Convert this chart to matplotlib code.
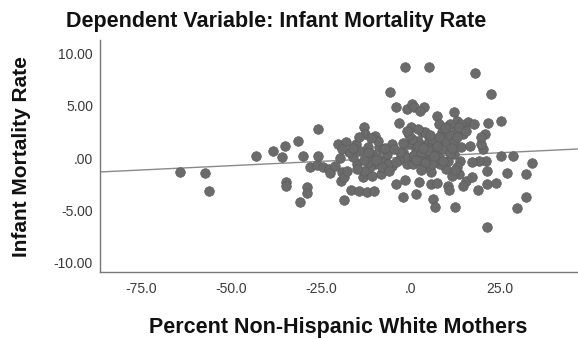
import matplotlib
matplotlib.use("Agg")
import matplotlib.pyplot as plt
import numpy as np

plt.rcParams['font.family'] = ['Liberation Sans', 'DejaVu Sans']

# partial residuals
x_vals = [-64.3, -57.4, -56.1, -43.2, -38.4, -35.8, -35.0, -34.6, -34.6, -31.4,
          -30.7, -30.0, -28.9, -28.9, -27.9, -25.9, -25.8, -26.1, -24.3, -22.8,
          -22.5, -20.1, -19.6, -19.1, -19.4, -18.6, -18.0, -18.5, -16.5, -15.3,
          -15.0, -14.3, -12.9, -12.6, -13.2, -12.1, -10.3, -9.8, -11.9, -10.8,
          -8.7, -8.2, -7.2, -5.6, -5.1, -4.1, -3.1, -4.1, -2.0, -1.5,
          -1.5, -1.0, 0.0, 0.4, 1.6, 2.4, 3.7, 5.2, 5.7, 6.3,
          6.8, 7.3, 7.3, 10.4, 10.7, 12.0, 12.3, 18.1, 18.7, 21.3,
          22.5, 21.3, 23.9, 25.2, 25.2, 27.0, 28.7, 29.8, 32.2, 32.2,
          33.9, 21.5, 20.8, 20.3, 21.1, 21.3, 19.7, 19.2, 17.1, 16.1,
          17.7, 19.7, 15.6, 17.1, 14.5, 13.5, 14.0, 13.8, 14.5, 15.0,
          12.9, 10.9, 9.9, 8.8, 9.9, 11.5, 8.3, 6.8, 5.7, 7.3,
          5.2, 5.7, 4.7, 3.7, 3.2, 2.2, 1.4, 2.6, 0.0, -0.5,
          -2.0, -1.0, 0.6, -1.5, -3.1, -5.1, -6.2, -6.7, -7.7, -9.3,
          -10.0, -11.3, -12.9, -15.0, -16.0, -17.1, -17.6, -11.9, -10.8, 7.8,
          8.8, 12.6, 12.0, 10.4, 13.0, 4.7, 3.7, 6.8, 4.7, 1.1,
          2.7, 1.0, 2.0, 3.0, 4.0, 5.0, 6.0, 7.0, 8.0, 0.5,
          -0.5, 2.5, 4.5, 6.0, 9.0, 10.0, 11.0, 10.0, 12.0, 13.0,
          14.0, 11.0, 9.0, 8.0, -14.0, -13.0, -12.0, -9.0, -8.0, -6.0,
          -4.0, -3.0, -2.0, -7.0, -11.0, -16.0, -19.0, -21.0,
          1.5, 3.5, 5.5, 7.5, 4.0, 2.0, 6.5, 11.5, 13.5, 15.5,
          12.5, 16.5, -1.0, -4.5, -9.5, -14.5, 9.5, 3.0]
y_vals = [-1.36, -1.42, -3.17, 0.18, 0.65, 0.14, 1.16, -2.25, -2.63, 1.67,
          -4.19, 0.18, -2.73, -3.37, -0.88, 2.79, 0.24, -0.65, -0.81, -1.04,
          -1.45, 1.36, 0.0, -1.36, -2.15, -4.0, 1.52, -1.77, -3.01, 1.36,
          -0.56, -3.11, 2.95, 2.31, -1.83, -3.27, -3.17, 2.15, 1.04, 0.40,
          1.04, -1.52, -0.18, 6.30, 1.36, 4.86, 3.33, -2.47, -3.75, 8.76,
          -2.09, 4.70, 2.95, 5.18, -3.43, -2.31, 4.86, 8.69, -2.47, -3.91,
          -4.70, -2.41, 4.07, -2.63, -3.05, 4.39, -4.70, 8.12, -3.05, -2.47,
          6.14, -6.56, -2.41, 3.59, 0.24, -1.45, 0.24, -4.77, -1.52, -3.75,
          -0.49, 3.33, 2.31, 0.88, -0.24, -1.20, 1.36, -0.24, -0.40, 3.43,
          3.27, 1.99, -2.15, -1.83, -2.63, -1.52, 1.04, -0.24, 2.31, 2.95,
          3.59, 3.27, 2.47, 1.67, -1.04, -1.67, -0.56, 0.08, -1.36, 1.04,
          1.99, 1.20, 0.40, -0.08, 2.47, 1.67, 0.88, 0.72, 0.08, 1.36,
          0.56, -0.56, -0.56, 0.08, -0.18, -0.72, -0.56, 0.40, 0.88, 0.08,
          -0.56, -0.88, -1.20, -1.04, 0.08, 0.56, -1.20, -0.40, -1.67, 3.27,
          2.47, 2.63, 0.40, -0.24, -0.88, 1.36, 1.04, -0.24, -0.40, 4.86,
          4.54, 0.3, 1.2, 0.5, 2.5, 0.8, 1.8, 0.5, 0.0, 1.8,
          2.2, -0.3, -0.8, -0.6, 0.9, 1.6, 2.2, 3.0, 1.5, 2.0,
          3.3, 0.5, -0.3, 2.0, 0.7, -0.2, 0.6, 1.6, -0.9, -1.2,
          -0.4, 0.6, 1.4, 1.0, 1.9, 1.0, 0.9, -0.8,
          -0.2, 1.0, 2.2, 1.2, -0.5, 2.8, 0.2, 1.0, 3.0, 2.6,
          -1.1, 1.2, 2.6, 0.9, -0.2, 2.0, 2.9, -1.1]

# fit line
fit_slope = 0.0165
fit_intercept = 0.1

x_ticks = [-75, -50, -25, 0, 25]
x_labels = ['-75.0', '-50.0', '-25.0', '.0', '25.0']
y_ticks = [-10, -5, 0, 5, 10]
y_labels = ['-10.00', '-5.00', '.00', '5.00', '10.00']

W, H = 578, 339
fig = plt.figure(figsize=(W / 100, H / 100), dpi=100)
ax = fig.add_axes([100 / W, (H - 272) / H, (W - 100) / W, (272 - 40) / H])

ax.scatter(x_vals, y_vals, s=48, color='#6b6b6b', edgecolors='#5e5e5e',
           linewidths=0.5, zorder=3)

xlim = (-86.6, 46.7)
xl = np.array(xlim)
ax.plot(xl, fit_intercept + fit_slope * xl, color='#8a8a8a', lw=1.0, zorder=2)

ax.set_xlim(xlim)
ax.set_ylim(-10.9, 11.3)
ax.set_xticks(x_ticks)
ax.set_xticklabels(x_labels)
ax.set_yticks(y_ticks)
ax.set_yticklabels(y_labels)
ax.tick_params(length=0, labelsize=10, labelcolor='#3a3a3a')
ax.tick_params(axis='x', pad=7)
ax.tick_params(axis='y', pad=5)

for s in ['top', 'right']:
    ax.spines[s].set_visible(False)
for s in ['left', 'bottom']:
    ax.spines[s].set_color('#777777')
    ax.spines[s].set_linewidth(1.0)

fig.text(66 / W, 1 - 22 / H, 'Dependent Variable: Infant Mortality Rate',
         fontsize=15.5, fontweight='bold', ha='left', va='center', color='#111111')
fig.text(22 / W, 1 - 157 / H, 'Infant Mortality Rate', fontsize=15,
         fontweight='bold', rotation=90, ha='center', va='center', color='#111111')
fig.text(338 / W, 1 - 328 / H, 'Percent Non-Hispanic White Mothers',
         fontsize=15.5, fontweight='bold', ha='center', va='center', color='#111111')

fig.savefig('out.png', dpi=100)
